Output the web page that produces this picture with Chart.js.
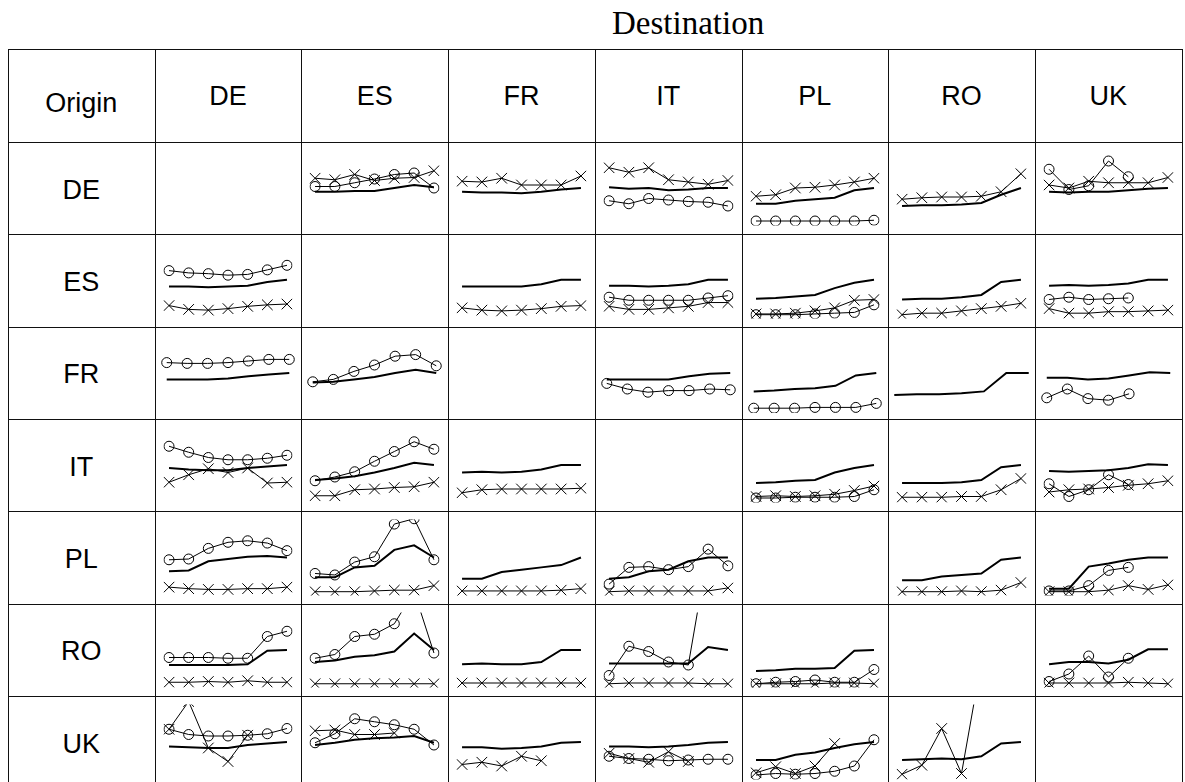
<!DOCTYPE html>
<html>
<head>
<meta charset="utf-8">
<script src="https://cdn.jsdelivr.net/npm/chart.js@4.4.0/dist/chart.umd.min.js"></script>
<style>
  body { margin: 0; background: #fff; width: 1185px; height: 782px; overflow: hidden; position: relative;
         font-family: "Liberation Sans", Arial, sans-serif; }
  .lbl { position: absolute; font-size: 27px; line-height: 27px; text-align: center; color: #000; white-space: nowrap; }
  .gl { position: absolute; background: #111; z-index: 5; }
  canvas { position: absolute; }
  #title { position: absolute; left: 612px; top: 7px; font-family: "Liberation Serif", serif; font-size: 33px; line-height: 33px; color: #000; }
</style>
</head>
<body>
<div id="title">Destination</div>
<script>
const countries = ['DE', 'ES', 'FR', 'IT', 'PL', 'RO', 'UK'];
const periods = [0, 1, 2, 3, 4, 5, 6];

// one entry per destination (order of countries), null = nothing drawn
// values are the height inside the cell (0 = bottom, 100 = top)
const solidDE = [null, [45,45,46,46,50,54,51], [45,44,44,43,45,48,50], [51,49,50,47,48,50,50], [29,29,33,35,37,47,50], [26,27,27,28,30,41,50], [45,44,45,45,47,49,50]];
const ringDE  = [null, [52,52,57,62,68,70,50], null, [33,29,36,34,32,31,26], [6,6,6,6,6,6,7], null, [75,48,53,86,65,null,null]];
const crossDE = [null, [63,61,68,60,63,64,73], [59,58,63,54,54,54,66], [77,71,77,61,58,55,60], [39,41,50,51,54,58,63], [35,37,38,38,39,45,69], [54,50,59,57,57,57,64]];

const solidES = [[42,42,41,42,43,48,51], null, [42,42,42,42,45,51,51], [43,43,42,43,45,51,51], [26,27,29,31,40,47,51], [25,26,26,28,31,48,51], [43,44,43,44,46,51,51]];
const ringES  = [[63,60,59,57,58,64,70], null, null, [28,24,24,24,24,27,30], [5,5,5,6,7,8,18], null, [25,28,25,26,27,null,null]];
const crossES = [[17,12,11,13,16,18,19], null, [14,11,10,11,13,16,17], [16,12,12,14,16,21,21], [6,6,7,10,14,24,25], [5,7,7,10,13,16,20], [13,7,7,9,9,10,11]];

const solidFR = [[42,42,42,43,46,48,50], [38,39,42,45,50,54,50], null, [42,42,42,42,46,49,50], [27,28,30,31,34,47,50], [26,27,27,28,30,50,50], [44,44,42,43,47,51,50]];
const ringFR  = [[63,62,62,63,65,67,67], [39,42,52,60,71,73,59], null, [37,30,26,28,28,30,29], [6,6,6,7,7,7,12], null, [19,30,18,16,24,null,null]];
const crossFR = [null, null, null, null, null, null, null];

const solidIT = [[46,44,43,43,46,48,50], [30,32,35,40,46,53,50], [40,41,40,41,44,50,50], null, [26,27,29,30,40,46,50], [26,26,26,27,30,47,50], [42,41,42,43,46,51,50]];
const ringIT  = [[75,67,60,57,57,59,63], [29,34,41,55,68,81,71], null, null, [6,6,7,7,7,8,17], null, [25,8,17,37,24,null,null]];
const crossIT = [[27,37,45,40,46,26,27], [9,9,17,18,20,21,27], [13,17,18,18,18,18,19], null, [8,9,8,9,11,16,22], [7,7,7,8,8,17,32], [14,17,18,20,23,25,29]];

const solidPL = [[32,33,45,48,51,52,50], [24,24,37,39,60,66,50], [22,22,31,34,37,40,50], [22,24,32,34,45,50,50], null, [20,20,25,27,29,47,50], [9,9,38,42,47,50,50]];
const ringPL  = [[47,48,62,70,72,69,59], [29,27,44,51,94,101,47], null, [15,37,38,34,38,61,39], null, null, [6,6,13,33,37,null,null]];
const crossPL = [[11,9,8,8,9,9,11], [5,5,5,6,7,7,13], [6,6,6,6,6,7,9], [5,6,6,6,6,6,10], null, [5,5,5,6,5,7,17], [5,5,5,7,13,8,14]];

const solidRO = [[30,30,30,30,31,49,50], [34,36,41,43,48,72,50], [31,32,31,31,34,50,50], [32,32,32,32,32,54,50], [22,23,25,25,26,49,50], null, [31,34,34,32,37,51,51]];
const ringRO  = [[40,40,40,39,39,68,75], [39,44,68,71,85,128,46], null, [16,55,48,34,30,183,null], [5,7,8,10,7,7,24], null, [8,18,42,14,39,null,null]];
const crossRO = [[7,7,8,7,9,7,7], [5,5,5,5,5,5,5], [6,6,6,6,6,6,6], [5,6,6,6,6,5,5], [5,5,5,5,6,6,5], null, [6,6,6,6,7,6,5]];

const solidUK = [[44,43,42,42,46,48,50], [46,49,53,55,56,58,49], [43,43,41,42,44,49,50], [44,44,43,44,46,49,50], [26,26,33,36,42,47,50], [26,27,28,27,31,48,50], null];
const ringUK  = [[67,60,58,58,59,61,68], [49,61,81,77,73,67,46], null, [31,28,27,25,26,27,27], [6,8,7,8,11,18,53], null, null];
const crossUK = [[67,104,42,24,59,null,null], [65,66,60,60,62,null,null], [20,23,18,31,25,null,null], [35,28,23,37,24,null,null], [9,17,8,18,48,null,null], [7,19,68,8,157,null,null], null];

const solidRows = { DE: solidDE, ES: solidES, FR: solidFR, IT: solidIT, PL: solidPL, RO: solidRO, UK: solidUK };
const ringRows  = { DE: ringDE,  ES: ringES,  FR: ringFR,  IT: ringIT,  PL: ringPL,  RO: ringRO,  UK: ringUK };
const crossRows = { DE: crossDE, ES: crossES, FR: crossFR, IT: crossIT, PL: crossPL, RO: crossRO, UK: crossUK };

// table geometry
const tblLeft = 8, colW = 146.7, tblTop = 49, headH = 93, rowH = 92.3;
const colX = i => tblLeft + i * colW;
const rowY = r => tblTop + headH + r * rowH;

function addLabel(text, cx, baseline) {
  const d = document.createElement('div');
  d.className = 'lbl';
  d.textContent = text;
  d.style.left = (cx - 60) + 'px';
  d.style.width = '120px';
  d.style.top = (baseline - 22.9) + 'px';
  document.body.appendChild(d);
}

function addLine(x, y, w, h) {
  const d = document.createElement('div');
  d.className = 'gl';
  d.style.left = x + 'px'; d.style.top = y + 'px';
  d.style.width = w + 'px'; d.style.height = h + 'px';
  document.body.appendChild(d);
}

// header
addLabel('Origin', colX(0) + colW / 2, 113);
countries.forEach((c, i) => addLabel(c, colX(i + 1) + colW / 2, 106));
countries.forEach((c, r) => addLabel(c, colX(0) + colW / 2, rowY(r) + rowH / 2 + 11.5));

// grid lines
for (let i = 0; i <= 8; i++) addLine(Math.round(colX(i)), tblTop, 1, 800);
addLine(tblLeft, tblTop, Math.round(colX(8) - tblLeft) + 1, 1);
for (let r = 0; r <= 7; r++) addLine(tblLeft, Math.round(rowY(r)), Math.round(colX(8) - tblLeft) + 1, 1);

function pts(vals) {
  return periods.map((p, i) => ({ x: p, y: vals[i] }));
}

countries.forEach((orig, r) => {
  countries.forEach((dest, c) => {
    const datasets = [];
    const s = solidRows[orig][c], g = ringRows[orig][c], x = crossRows[orig][c];
    if (s) datasets.push({ data: pts(s), borderColor: '#000', borderWidth: 2, pointRadius: 0 });
    if (g) datasets.push({ data: pts(g), borderColor: '#000', borderWidth: 1, pointStyle: 'circle',
      pointRadius: 5, pointBorderWidth: 1, pointBorderColor: '#000', pointBackgroundColor: 'rgba(0,0,0,0)' });
    if (x) datasets.push({ data: pts(x), borderColor: '#000', borderWidth: 1, pointStyle: 'crossRot',
      pointRadius: 7.5, pointBorderWidth: 1, pointBorderColor: '#000' });
    if (!datasets.length) return;

    const cv = document.createElement('canvas');
    const x0 = Math.round(colX(c + 1)), y0 = Math.round(rowY(r));
    cv.width = Math.round(colX(c + 2)) - x0;
    cv.height = Math.round(rowY(r + 1)) - y0;
    cv.style.left = x0 + 'px';
    cv.style.top = y0 + 'px';
    document.body.appendChild(cv);

    new Chart(cv.getContext('2d'), {
      type: 'line',
      data: { datasets: datasets },
      options: {
        responsive: false,
        animation: false,
        events: [],
        layout: { padding: 0 },
        elements: { line: { tension: 0 } },
        plugins: { legend: { display: false }, tooltip: { enabled: false } },
        scales: {
          x: { type: 'linear', min: -0.28, max: 6.28, display: false },
          y: { min: 0, max: 100, display: false }
        }
      }
    });
  });
});
</script>
</body>
</html>
